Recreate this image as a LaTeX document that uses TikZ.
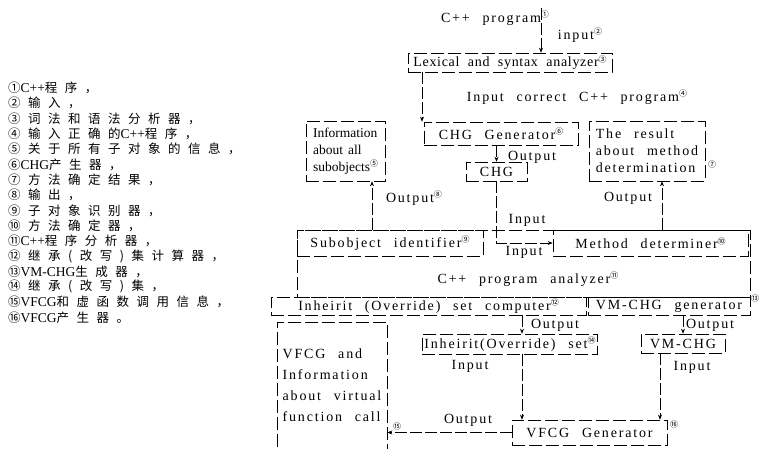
\documentclass[tikz,border=0pt]{standalone}
\usepackage{fontspec}
\setmainfont{Liberation Serif}[WordSpace=2.4, LetterSpace=13]
\newfontfamily\medfont{Liberation Serif}[WordSpace=2.0, LetterSpace=5]
\newfontfamily\tightfont{Liberation Serif}[WordSpace=1.5, LetterSpace=0]
\newfontfamily\latfont{Liberation Serif}
\newfontfamily\cjkfont{Noto Sans CJK SC}[LetterSpace=60]
\newfontfamily\circfont{Noto Sans CJK SC}
\usetikzlibrary{arrows.meta}
\newcommand{\cnum}[1]{\raisebox{4.5pt}{\fontsize{8}{8}\circfont #1}}
\newcommand{\lt}[1]{{\fontsize{13.5}{13}\latfont #1}}
\begin{document}
\begin{tikzpicture}[x=1pt,y=-1pt,
  font=\fontsize{14}{17}\selectfont,
  box/.style={draw, dash pattern=on 13pt off 4pt, line width=0.6pt, inner sep=2pt},
  conn/.style={line width=0.6pt, dash pattern=on 12pt off 3pt, -{Stealth[length=5pt,width=4pt]}},
  lbl/.style={inner sep=0pt},
  leg/.style={inner sep=0pt, anchor=west, font=\fontsize{12.5}{13}\cjkfont}]
\fill[white] (0,0) rectangle (760,449);
\useasboundingbox (0,0) rectangle (760,449);

% legend
\node[leg] (l1) at (8,88) {①\lt{C++}程序，};
\node[leg] (l2) at (8,103.3) {②输入，};
\node[leg] (l3) at (8,118.6) {③词法和语法分析器，};
\node[leg] (l4) at (8,133.9) {④输入正确的\lt{C++}程序，};
\node[leg] (l5) at (8,149.2) {⑤关于所有子对象的信息，};
\node[leg] (l6) at (8,164.5) {⑥\lt{CHG}产生器，};
\node[leg] (l7) at (8,179.8) {⑦方法确定结果，};
\node[leg] (l8) at (8,195.1) {⑧输出，};
\node[leg] (l9) at (8,210.4) {⑨子对象识别器，};
\node[leg] (l10) at (8,225.7) {⑩方法确定器，};
\node[leg] (l11) at (8,241) {⑪\lt{C++}程序分析器，};
\node[leg] (l12) at (8,256.3) {⑫继承(改写)集计算器，};
\node[leg] (l13) at (8,271.6) {⑬\lt{VM-CHG}生成器，};
\node[leg] (l14) at (8,286.9) {⑭继承(改写)集，};
\node[leg] (l15) at (8,302.2) {⑮\lt{VFCG}和虚函数调用信息，};
\node[leg] (l16) at (8,317.5) {⑯\lt{VFCG}产生器。};

% top
\node[lbl] (prog) at (495,18) {C++ program\cnum{①}};
\node[lbl] (inp2) at (580,35) {input\cnum{②}};
\node[box, minimum width=204, minimum height=19, font=\fontsize{14}{17}\medfont] (lex) at (510,62.5) {Lexical and syntax analyzer\cnum{③}};
\coordinate (a1) at (541,8);
\draw[conn] (a1) -- (a1 |- lex.north);

\node[box, minimum width=79, minimum height=60, align=left, font=\fontsize{13.5}{17}\tightfont] (info) at (345.5,151) {Information\\about all\\subobjects\cnum{⑤}};
\node[box, minimum width=154, minimum height=23] (chggen) at (501,133.5) {CHG Generator\cnum{⑥}};
\node[box, minimum width=116, minimum height=60, align=left] (result) at (647,151) {The result\\about method\\determination};
\node[lbl] (c7) at (712,166) {\cnum{⑦}};
\coordinate (a4) at (422,0);
\draw[conn] (a4 |- lex.south) -- (a4 |- chggen.north);
\node[lbl] (inp4) at (577,97) {Input correct C++ program\cnum{④}};

\node[box, minimum width=61, minimum height=19] (chg) at (496.5,171.5) {CHG};
\draw[conn] (chggen.south -| chg.north) -- (chg.north);
\node[lbl] (out6) at (532,157) {Output};

% analyzer
\node[box, minimum width=453, minimum height=67] (analyzer) at (523.5,263.5) {};
\node[lbl] (anl) at (528,279) {C++ program analyzer\cnum{⑪}};
\node[box, minimum width=186, minimum height=26] (subid) at (390,243) {Subobject identifier\cnum{⑨}};
\node[box, minimum width=195, minimum height=26] (methdet) at (650.5,243) {Method determiner\cnum{⑩}};

\coordinate (a8) at (372,0);
\draw[conn] (a8 |- subid.north) -- (a8 |- info.south);
\node[lbl] (out8) at (414,198) {Output\cnum{⑧}};
\coordinate (a7) at (662,0);
\draw[conn] (a7 |- methdet.north) -- (a7 |- result.south);
\node[lbl] (out7) at (628,198) {Output};

\draw[conn] (chg.south) |- (methdet.west);
\node[lbl] (inA) at (527,220) {Input};
\node[lbl] (inB) at (524,252) {Input};

% lower
\node[box, minimum width=315, minimum height=18] (isc) at (428.5,306) {Inheirit (Override) set computer\cnum{⑫}};
\node[box, minimum width=162, minimum height=18] (vmgen) at (669,306) {VM-CHG generator};
\node[lbl] (c13) at (755,300) {\cnum{⑬}};

\node[box, minimum width=170, minimum height=20] (iset) at (510,344) {Inheirit(Override) set\cnum{⑭}};
\node[box, minimum width=84, minimum height=19] (vmchg) at (683,343.5) {VM-CHG};
\node[box, minimum width=155, minimum height=25] (vfcg) at (589.5,432.5) {VFCG Generator};
\node[lbl] (c16) at (674,426) {\cnum{⑯}};
\node[box, minimum width=110, minimum height=127, align=left, font=\fontsize{14}{21}\selectfont] (vfinfo) at (332,385.5) {VFCG and\\Information\\about virtual\\function call};

\coordinate (a12) at (522,0);
\draw[conn] (a12 |- isc.south) -- (a12 |- iset.north);
\node[lbl] (out12) at (555,325) {Output};
\coordinate (a13) at (683,0);
\draw[conn] (a13 |- vmgen.south) -- (a13 |- vmchg.north);
\node[lbl] (out13) at (710,325) {Output};

\draw[conn] (a12 |- iset.south) -- (a12 |- vfcg.north);
\node[lbl] (in14) at (470,366) {Input};
\coordinate (a14) at (660,0);
\draw[conn] (a14 |- vmchg.south) -- (a14 |- vfcg.north);
\node[lbl] (in13) at (692,367) {Input};

\draw[conn] (vfcg.west) -- (vfcg.west -| vfinfo.east);
\node[lbl] (out15) at (468,420) {Output};
\node[lbl] (c15) at (397,428) {\cnum{⑮}};
\end{tikzpicture}
\end{document}
